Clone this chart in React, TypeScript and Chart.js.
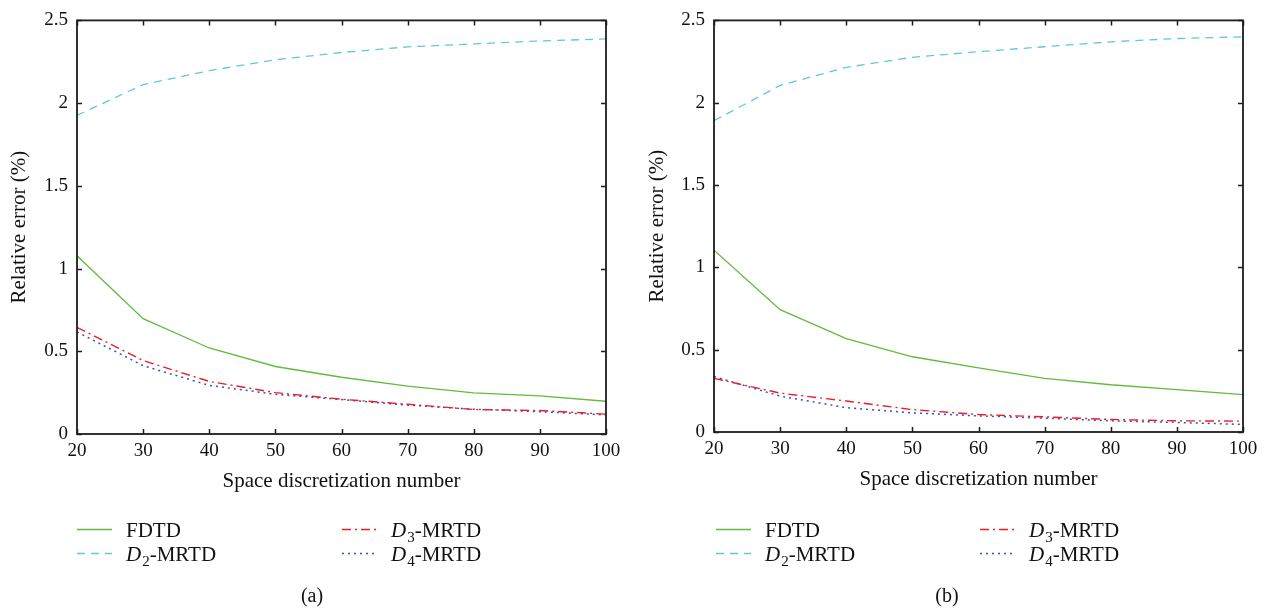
import { useEffect, useRef } from "react";
import { Chart, registerables } from "chart.js";

Chart.register(...registerables);

// ---------- data ----------
const xValues = [20, 30, 40, 50, 60, 70, 80, 90, 100];
const seriesLabels = ["FDTD", "D2-MRTD", "D3-MRTD", "D4-MRTD"];

const fdtdA = [1.077, 0.697, 0.52, 0.408, 0.343, 0.29, 0.248, 0.23, 0.198];
const d2A = [1.926, 2.112, 2.196, 2.262, 2.306, 2.34, 2.358, 2.376, 2.388];
const d3A = [0.645, 0.444, 0.318, 0.25, 0.21, 0.18, 0.148, 0.142, 0.12];
const d4A = [0.617, 0.413, 0.294, 0.24, 0.208, 0.175, 0.15, 0.135, 0.115];

const fdtdB = [1.104, 0.743, 0.567, 0.457, 0.389, 0.326, 0.287, 0.257, 0.227];
const d2B = [1.891, 2.105, 2.215, 2.276, 2.31, 2.34, 2.37, 2.39, 2.4];
const d3B = [0.326, 0.236, 0.188, 0.136, 0.106, 0.092, 0.076, 0.068, 0.066];
const d4B = [0.337, 0.218, 0.148, 0.116, 0.098, 0.084, 0.068, 0.058, 0.046];

const xTitle = "Space discretization number";
const yTitle = "Relative error (%)";

// ---------- styles ----------
const FONT = "'Liberation Serif', 'Times New Roman', serif";
const colors = ["#62bb3e", "#5ccad8", "#ee1c25", "#3451b8"];
const dashes: number[][] = [[], [8, 6], [9, 4, 2, 4], [2, 4]];
const widths = [1.3, 1.3, 1.4, 1.5];

type Geo = {
  L: number; T: number; R: number; B: number;
  yTitleX: number; legendCols: number[]; legendRows: number[];
  labelX: number; tag: string;
};

const W = 633;
const H = 612;

const framePlugin = {
  id: "frameLegend",
  afterDraw(chart: any, _args: any, opts: any) {
    const { ctx, chartArea, scales } = chart;
    const { left, right, top, bottom } = chartArea;
    const x = scales.x;
    const y = scales.y;
    ctx.save();
    ctx.strokeStyle = "#1c1c1c";
    ctx.lineWidth = 1.8;
    ctx.setLineDash([]);
    ctx.strokeRect(left, top, right - left, bottom - top);
    const tl = 5;
    ctx.lineWidth = 1.5;
    ctx.beginPath();
    x.ticks.forEach((t: any) => {
      const px = Math.round(x.getPixelForValue(t.value)) + 0.5;
      ctx.moveTo(px, bottom); ctx.lineTo(px, bottom - tl);
      ctx.moveTo(px, top); ctx.lineTo(px, top + tl);
    });
    y.ticks.forEach((t: any) => {
      const py = Math.round(y.getPixelForValue(t.value)) + 0.5;
      ctx.moveTo(left, py); ctx.lineTo(left + tl, py);
      ctx.moveTo(right, py); ctx.lineTo(right - tl, py);
    });
    ctx.stroke();

    // legend
    const geo: Geo = opts.geo;
    chart.data.datasets.forEach((ds: any, i: number) => {
      const col = Math.floor(i / 2);
      const row = i % 2;
      const lx = geo.legendCols[col];
      const ly = geo.legendRows[row];
      ctx.beginPath();
      ctx.strokeStyle = ds.borderColor;
      ctx.lineWidth = ds.borderWidth;
      ctx.setLineDash(ds.borderDash || []);
      ctx.moveTo(lx, ly + 0.5);
      ctx.lineTo(lx + 35, ly + 0.5);
      ctx.stroke();
      ctx.setLineDash([]);
      ctx.fillStyle = "#111";
      ctx.textBaseline = "alphabetic";
      ctx.textAlign = "left";
      let tx = lx + 49;
      const by = ly + 8;
      const m = /^D(\d)(.*)$/.exec(ds.label);
      if (m) {
        ctx.font = `italic 21px ${FONT}`;
        ctx.fillText("D", tx, by);
        tx += ctx.measureText("D").width + 1;
        ctx.font = `15px ${FONT}`;
        ctx.fillText(m[1], tx, by + 5);
        tx += ctx.measureText(m[1]).width;
        ctx.font = `21px ${FONT}`;
        ctx.fillText(m[2], tx, by);
      } else {
        ctx.font = `21px ${FONT}`;
        ctx.fillText(ds.label, tx, by);
      }
    });
    ctx.font = `20px ${FONT}`;
    ctx.textAlign = "center";
    ctx.fillStyle = "#111";
    ctx.fillText(geo.tag, geo.labelX, 602);
    ctx.restore();
  },
};

function Panel({ series, geo, offset }: { series: number[][]; geo: Geo; offset: number }) {
  const ref = useRef<HTMLCanvasElement | null>(null);
  useEffect(() => {
    if (!ref.current) return;
    const xH = 60;
    const chart = new Chart(ref.current, {
      type: "line",
      data: {
        datasets: series.map((vals, i) => ({
          label: seriesLabels[i],
          data: xValues.map((xv, j) => ({ x: xv, y: vals[j] })),
          borderColor: colors[i],
          borderWidth: widths[i],
          borderDash: dashes[i],
          pointRadius: 0,
          fill: false,
          tension: 0,
        })),
      },
      options: {
        animation: false,
        responsive: false,
        events: [],
        layout: {
          padding: { left: 0, top: geo.T, right: W - geo.R, bottom: H - geo.B - xH },
        },
        plugins: {
          legend: { display: false },
          tooltip: { enabled: false },
          frameLegend: { geo },
        } as any,
        scales: {
          x: {
            type: "linear",
            min: 20,
            max: 100,
            grid: { display: false, drawTicks: false },
            border: { display: false },
            ticks: { stepSize: 10, color: "#111", padding: 6, font: { family: FONT, size: 19 } },
            title: { display: true, text: xTitle, color: "#111", padding: 0, font: { family: FONT, size: 21 } },
            afterFit: (s: any) => { s.height = xH; },
          },
          y: {
            type: "linear",
            min: 0,
            max: 2.5,
            grid: { display: false, drawTicks: false },
            border: { display: false },
            ticks: {
              stepSize: 0.5, color: "#111", padding: 9, font: { family: FONT, size: 19 },
              callback: (v: any) => String(Number(v)),
            },
            title: {
              display: true, text: yTitle, color: "#111",
              padding: { top: geo.yTitleX - 12.5, bottom: 0 },
              font: { family: FONT, size: 21 },
            },
            afterFit: (s: any) => { s.width = geo.L; },
          },
        },
      },
      plugins: [framePlugin],
    } as any);
    return () => chart.destroy();
  }, []);
  return (
    <canvas
      ref={ref}
      width={W}
      height={H}
      style={{ position: "absolute", left: offset, top: 0, width: W, height: H, display: "block" }}
    />
  );
}

const geoA: Geo = {
  L: 77, T: 17, R: 606, B: 434, yTitleX: 19,
  legendCols: [77, 342], legendRows: [529, 553], labelX: 312, tag: "(a)",
};
const geoB: Geo = {
  L: 81, T: 16, R: 610, B: 432, yTitleX: 24,
  legendCols: [83, 347], legendRows: [529, 553], labelX: 314, tag: "(b)",
};

export default function App() {
  return (
    <div style={{ position: "absolute", left: 0, top: 0, width: 1266, height: 612, background: "#fff" }}>
      <Panel series={[fdtdA, d2A, d3A, d4A]} geo={geoA} offset={0} />
      <Panel series={[fdtdB, d2B, d3B, d4B]} geo={geoB} offset={633} />
    </div>
  );
}
